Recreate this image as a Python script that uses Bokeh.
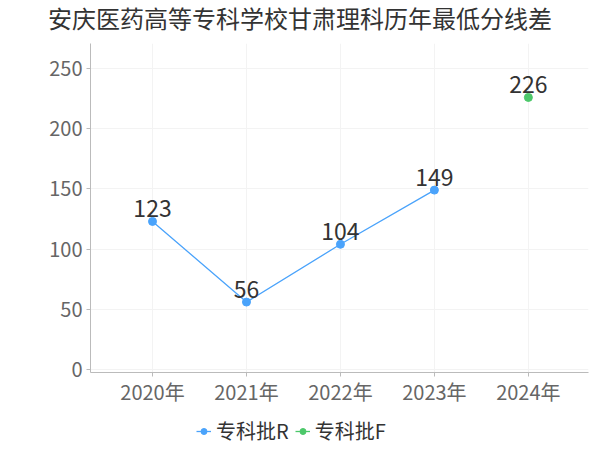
from bokeh.plotting import figure
from bokeh.layouts import column
from bokeh.models import ColumnDataSource, Range1d, FixedTicker, Legend, LegendItem, Div
from bokeh.core.properties import value
from bokeh.embed import file_html
from bokeh.resources import INLINE

title_text = "安庆医药高等专科学校甘肃理科历年最低分线差"
years = [2020, 2021, 2022, 2023, 2024]
year_labels = ["2020年", "2021年", "2022年", "2023年", "2024年"]
r_years = [2020, 2021, 2022, 2023]
r_values = [123, 56, 104, 149]
f_years = [2024]
f_values = [226]
y_ticks = [0, 50, 100, 150, 200, 250]

FONT = "Noto Sans CJK SC"
blue = "#4aa3fb"
green = "#4cc86a"

# title
tt = Div(text=title_text, width=600, height=36, margin=0,
         styles={"font-family": FONT, "font-size": "24px", "color": "#333333",
                 "text-align": "center", "line-height": "36px", "white-space": "nowrap"})

p = figure(width=600, height=376, output_backend="svg", toolbar_location=None,
           x_range=Range1d(2019.34, 2024.64), y_range=Range1d(-2.5, 270.8),
           min_border_left=90, min_border_right=12, min_border_top=7, min_border_bottom=40)

p.outline_line_color = None
p.background_fill_color = "white"
p.border_fill_color = "white"

p.xgrid.ticker = FixedTicker(ticks=years)
p.xgrid.grid_line_color = "#f3f3f3"
p.ygrid.grid_line_color = "#f3f3f3"

p.xaxis.ticker = FixedTicker(ticks=years)
p.xaxis.major_label_overrides = {y: l for y, l in zip(years, year_labels)}
p.yaxis.ticker = FixedTicker(ticks=y_ticks)
for ax in (p.xaxis, p.yaxis):
    ax.axis_line_color = "#bbbbbb"
    ax.major_tick_line_color = "#bbbbbb"
    ax.minor_tick_line_color = None
    ax.major_label_text_font = FONT
    ax.major_label_text_color = "#666666"
    ax.major_label_text_font_size = "20px"
    ax.major_tick_in = 0
    ax.major_tick_out = 4
p.xaxis.major_label_standoff = 0
p.yaxis.major_label_standoff = 4

src_r = ColumnDataSource(dict(x=r_years, y=r_values, t=[str(v) for v in r_values]))
src_f = ColumnDataSource(dict(x=f_years, y=f_values, t=[str(v) for v in f_values]))

p.line("x", "y", source=src_r, line_color=blue, line_width=1.3)
p.scatter("x", "y", source=src_r, size=8, fill_color=blue, line_color=blue)
p.scatter("x", "y", source=src_f, size=8, fill_color=green, line_color=green)

for src in (src_r, src_f):
    p.text("x", "y", text="t", source=src, text_align="center", text_baseline="middle",
           y_offset=-13, text_font=value(FONT), text_font_size="23px", text_color="#333333")

# legend strip below the chart (its frame is aligned with the chart frame)
lg = figure(width=600, height=38, output_backend="svg", toolbar_location=None,
            x_range=Range1d(0, 1), y_range=Range1d(0, 1), x_axis_type=None, y_axis_type=None,
            min_border=0, min_border_left=0, min_border_right=0, min_border_top=0, min_border_bottom=0)
lg.outline_line_color = None
lg.grid.visible = False
lr = lg.line("x", "y", source=src_r, line_color=blue, line_width=1.3)
cr = lg.scatter("x", "y", source=src_r, size=7, fill_color=blue, line_color=blue)
lf = lg.line("x", "y", source=src_f, line_color=green, line_width=1.3)
cf = lg.scatter("x", "y", source=src_f, size=7, fill_color=green, line_color=green)

legend = Legend(items=[LegendItem(label="专科批R", renderers=[lr, cr]),
                       LegendItem(label="专科批F", renderers=[lf, cf])],
                orientation="horizontal", location=(106, 5),
                label_text_font=FONT, label_text_font_size="20px", label_text_color="#333333",
                glyph_width=15, spacing=6, label_standoff=5, border_line_color=None,
                background_fill_alpha=0, margin=0, padding=2)
lg.add_layout(legend, "center")

open("out.html", "w").write(file_html(column(tt, p, lg, spacing=0), INLINE))
